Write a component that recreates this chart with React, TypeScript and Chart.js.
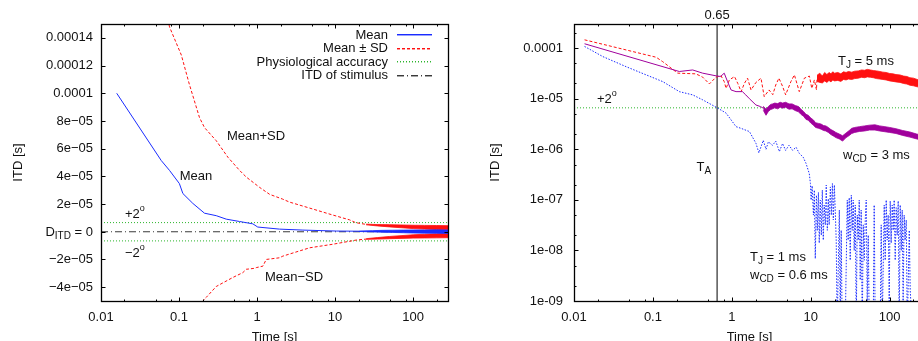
import React, { useEffect, useRef } from 'react';
import { Chart, registerables } from 'chart.js';

Chart.register(...registerables);

const FONT = '"Liberation Sans", Arial, Helvetica, sans-serif';
const INK = '#111111';
const BLUE = '#1a2cff';
const RED = '#ff1010';
const GREEN = '#2cb52c';
const PURPLE = '#a0009c';
const DASHDOT = '#3a3a3a';

// ---------- shared x axis ----------
const X_MIN = 0.01;
const X_MAX = 280;
const X_TICKS = [0.01, 0.1, 1, 10, 100];
const X_LABELS = ['0.01', '0.1', '1', '10', '100'];
const X_MINOR = [2, 5, 8];
const X_TITLE = 'Time [s]';
const Y_TITLE = 'ITD [s]';

// ---------- left panel ----------
const L_Y_MIN = -5e-5;
const L_Y_MAX = 1.5e-4;
const L_Y_TICKS = [-4e-5, -2e-5, 0, 2e-5, 4e-5, 6e-5, 8e-5, 1e-4, 1.2e-4, 1.4e-4];
const L_Y_LABELS = ['\u22124e\u221205', '\u22122e\u221205', 'D_{ITD} = 0', '2e\u221205', '4e\u221205', '6e\u221205', '8e\u221205', '0.0001', '0.00012', '0.00014'];
const ACCURACY = 6.6e-6;

const L_MEAN_T = [0.0159, 0.0592, 0.0755, 0.101, 0.112, 0.150, 0.212, 0.300, 0.403, 0.597, 0.883, 1.02, 1.94, 3.87, 10.4, 20];
const L_MEAN_V = [1.0e-4, 5.14e-5, 4.43e-5, 3.48e-5, 2.76e-5, 2.05e-5, 1.34e-5, 1.16e-5, 9.1e-6, 7.4e-6, 5.7e-6, 3.4e-6, 1.9e-6, 1.2e-6, 5e-7, 4e-7];
const L_MEAN_BAND_T = [20, 30, 40, 55, 75, 100, 140, 200, 280];
const L_MEAN_BAND_HI = [5e-7, 8e-7, 1.0e-6, 1.1e-6, 1.2e-6, 1.3e-6, 1.3e-6, 1.4e-6, 1.3e-6];
const L_MEAN_BAND_LO = [2e-7, -1e-7, -3e-7, -5e-7, -7e-7, -9e-7, -1.0e-6, -1.1e-6, -1.2e-6];

const L_PLUS_T = [0.068, 0.0755, 0.107, 0.136, 0.183, 0.212, 0.300, 0.423, 0.597, 0.727, 1.08, 1.45, 2.12, 2.61, 4.71, 9.3, 15.3, 18.3, 25];
const L_PLUS_V = [1.6e-4, 1.479e-4, 1.276e-4, 1.062e-4, 8.24e-5, 7.52e-5, 6.57e-5, 5.38e-5, 4.43e-5, 3.95e-5, 3.2e-5, 2.7e-5, 2.36e-5, 2.14e-5, 1.71e-5, 1.21e-5, 8.6e-6, 6.6e-6, 5.3e-6];
const L_PLUS_BAND_T = [25, 35, 50, 70, 100, 140, 200, 280];
const L_PLUS_BAND_HI = [5.5e-6, 5.2e-6, 5.1e-6, 4.9e-6, 4.7e-6, 4.6e-6, 4.5e-6, 4.4e-6];
const L_PLUS_BAND_LO = [5.0e-6, 4.2e-6, 3.5e-6, 2.9e-6, 2.3e-6, 1.9e-6, 1.6e-6, 1.4e-6];

const L_MINUS_T = [0.2, 0.212, 0.223, 0.300, 0.49, 0.658, 0.727, 0.929, 0.977, 1.19, 1.31, 1.94, 2.14, 4.71, 9.4, 18.7, 25];
const L_MINUS_V = [-5.05e-5, -4.86e-5, -4.74e-5, -3.95e-5, -3.3e-5, -2.95e-5, -2.71e-5, -2.64e-5, -2.59e-5, -2.48e-5, -2.0e-5, -1.88e-5, -1.76e-5, -1.16e-5, -9.0e-6, -6.0e-6, -5.3e-6];
const L_MINUS_BAND_T = [25, 35, 50, 70, 100, 140, 200, 280];
const L_MINUS_BAND_HI = [-5.0e-6, -4.2e-6, -3.4e-6, -2.8e-6, -2.2e-6, -1.8e-6, -1.5e-6, -1.3e-6];
const L_MINUS_BAND_LO = [-5.5e-6, -5.3e-6, -5.0e-6, -4.8e-6, -4.6e-6, -4.5e-6, -4.4e-6, -4.3e-6];

const LEGEND_LABELS = ['Mean', 'Mean \u00b1 SD', 'Physiological accuracy', 'ITD of stimulus'];

// ---------- right panel ----------
const R_Y_MIN = 1e-9;
const R_Y_MAX = 3e-4;
const R_Y_TICKS = [1e-9, 1e-8, 1e-7, 1e-6, 1e-5, 1e-4];
const R_Y_LABELS = ['1e-09', '1e-08', '1e-07', '1e-06', '1e-05', '0.0001'];
const R_Y_MINOR = [2, 5];
const T_A = 0.65;

const R_BLUE_T = [0.0136, 0.0232, 0.0457, 0.082, 0.133, 0.216, 0.319, 0.427, 0.631, 0.845, 1.13, 1.3, 1.67, 2.02, 2.2, 2.5, 2.71, 2.9, 3.28, 3.6, 4.0, 4.39, 4.8, 5.3, 5.89, 6.5, 7.15, 8.0, 8.69, 9.57,
  9.9, 10.1, 10.4, 10.8, 11.1, 11.4, 11.8, 12.1, 12.5, 12.8, 13.2, 13.6, 14.0, 14.4, 14.8, 15.3, 15.7, 16.2, 16.7, 17.1,
  17.7, 18.2, 18.8, 19.3, 19.9, 20.4, 21.0, 21.6, 23.0, 23.6, 24.3, 25.0, 27.3, 29.0, 29.8, 30.7, 31.6, 32.6, 33.5, 34.5,
  35.5, 36.6, 37.7, 38.8, 40.0, 41.1, 42.3, 43.5, 44.9, 46.2, 47.6, 49.0, 50.4, 51.9, 53.5, 55.1, 61.8, 63.6, 65.5, 75.8,
  78.0, 80.4, 85.2, 87.7, 90.3, 92.9, 95.7, 98.6, 101.5, 104.5, 107.6, 110.7, 114, 117.4, 120.9, 124.5, 128.2, 131.9, 135.9, 140,
  144, 148, 152.5, 157, 162, 167, 177, 182, 193, 280];
const R_BLUE_V = [1.08e-4, 6.8e-5, 4.3e-5, 2.96e-5, 2.18e-5, 1.38e-5, 1.19e-5, 9.5e-6, 6.8e-6, 5.2e-6, 2.8e-6, 2.6e-6, 2.24e-6, 1.31e-6, 8.5e-7, 1.5e-6, 1.0e-6, 1.4e-6, 1.2e-6, 1.45e-6, 9e-7, 1.3e-6, 9.5e-7, 1.2e-6, 9.5e-7, 1.1e-6, 8.3e-7, 7e-7, 5.3e-7, 3.3e-7,
  2.1e-7, 9.9e-8, 1.9e-7, 5e-8, 1.56e-7, 6.9e-9, 1.24e-7, 2.5e-8, 1.4e-7, 1.4e-8, 9.9e-8, 2.0e-8, 1.56e-7, 1.6e-8, 7.9e-8, 3.2e-8, 1.96e-7, 2.5e-8, 1.05e-7, 3.2e-8,
  1.8e-7, 5e-8, 2.1e-7, 4e-8, 1.96e-7, 6.3e-8, 1.6e-8, 3e-10, 6.3e-8, 5e-10, 2.5e-8, 3e-10, 3e-10, 9.9e-8, 1.6e-8, 1.1e-7, 6.4e-9, 1.24e-7, 2.5e-8, 9.9e-8,
  1e-8, 7.9e-8, 3e-10, 5e-8, 1.6e-8, 9.9e-8, 2.6e-9, 6.3e-8, 3e-10, 3.2e-8, 6.4e-9, 4e-8, 9.9e-8, 1e-9, 2e-8, 3e-10, 3e-10, 7.9e-8, 3e-10, 3e-10,
  3.2e-8, 3e-10, 7.9e-8, 6.4e-9, 9.9e-8, 1.6e-8, 5e-8, 1e-9, 9.5e-8, 1.4e-8, 7.9e-8, 2.5e-8, 9.9e-8, 6.4e-9, 7e-8, 2e-8, 9.5e-8, 3e-10, 7.9e-8, 1e-8,
  6.3e-8, 1e-9, 5e-8, 1.6e-8, 4e-8, 3e-10, 2.5e-8, 1.6e-9, 3e-10, 3e-10];

const R_PURPLE_T = [0.0136, 0.216, 0.319, 0.427, 0.631, 0.72, 0.8, 0.88, 0.977, 1.13, 1.36, 1.5, 1.67, 2.02, 2.3, 2.5];
const R_PURPLE_V = [1.22e-4, 3.45e-5, 3.7e-5, 3.2e-5, 2.83e-5, 2.75e-5, 3.2e-5, 2.2e-5, 1.49e-5, 1.38e-5, 1.38e-5, 1.19e-5, 1.0e-5, 7.5e-6, 7.0e-6, 6.5e-6];
const R_PURPLE_BAND_T = [2.5, 2.71, 2.9, 3.1, 3.28, 3.5, 3.8, 4.1, 4.39, 4.8, 5.3, 5.8, 6.4, 7.0, 7.5, 8.1, 8.7, 9.3, 10, 10.8, 11.5, 12.5, 13.5, 14.5, 15.5, 16.7, 18, 19.5, 20.8, 23, 25.3, 28, 30.7, 33, 36, 41.3, 48, 55.6, 65, 74.7, 87, 100, 120, 146, 180, 220, 280];
const R_PURPLE_BAND_HI = [7.1e-6, 6.2e-6, 7.0e-6, 7.7e-6, 7.9e-6, 8.2e-6, 8.0e-6, 8.5e-6, 8.2e-6, 8.5e-6, 7.9e-6, 7.9e-6, 7.3e-6, 7.0e-6, 6.2e-6, 5.6e-6, 4.9e-6, 4.7e-6, 4.15e-6, 3.8e-6, 3.35e-6, 3.25e-6, 3.15e-6, 2.95e-6, 2.9e-6, 2.7e-6, 2.45e-6, 2.3e-6, 2.15e-6, 2.0e-6, 1.85e-6, 2.1e-6, 2.35e-6, 2.6e-6, 2.7e-6, 2.8e-6, 2.9e-6, 3.0e-6, 3.05e-6, 2.9e-6, 2.8e-6, 2.7e-6, 2.55e-6, 2.35e-6, 2.2e-6, 2.0e-6, 1.85e-6];
const R_PURPLE_BAND_LO = [5.9e-6, 4.7e-6, 5.6e-6, 6.1e-6, 6.3e-6, 6.6e-6, 6.3e-6, 6.8e-6, 6.5e-6, 6.8e-6, 6.2e-6, 6.3e-6, 5.8e-6, 5.5e-6, 4.9e-6, 4.5e-6, 3.9e-6, 3.75e-6, 3.3e-6, 3.0e-6, 2.7e-6, 2.6e-6, 2.5e-6, 2.35e-6, 2.3e-6, 2.15e-6, 1.95e-6, 1.82e-6, 1.7e-6, 1.6e-6, 1.45e-6, 1.7e-6, 1.87e-6, 2.05e-6, 2.15e-6, 2.25e-6, 2.3e-6, 2.4e-6, 2.4e-6, 2.3e-6, 2.22e-6, 2.15e-6, 2.05e-6, 1.88e-6, 1.74e-6, 1.6e-6, 1.47e-6];

const R_RED_T = [0.0136, 0.11, 0.133, 0.206, 0.35, 0.427, 0.519, 0.631, 0.73, 0.8, 0.845, 0.93, 1.08, 1.19, 1.31, 1.44, 1.58, 1.75, 2.02, 2.34, 2.57, 2.96, 3.3, 3.6, 3.95, 4.4, 4.8, 5.6, 6.2, 7.15, 8.3, 9.6, 10.3, 11.1, 11.8, 12];
const R_RED_V = [1.46e-4, 6.6e-5, 5.4e-5, 3.2e-5, 3.1e-5, 2.67e-5, 1.96e-5, 2.67e-5, 2.83e-5, 2.18e-5, 1.6e-5, 2.35e-5, 2.74e-5, 2.0e-5, 1.38e-5, 2.0e-5, 2.55e-5, 1.49e-5, 2.1e-5, 2.55e-5, 1.1e-5, 1.49e-5, 1.2e-5, 1.87e-5, 2.55e-5, 1.74e-5, 1.19e-5, 2.18e-5, 2.96e-5, 1.38e-5, 2.55e-5, 2.8e-5, 1.6e-5, 2.35e-5, 1.5e-5, 2.5e-5];
const R_RED_BAND_T = [12, 13, 14, 15, 16, 17, 18, 19, 20, 22, 24, 26, 28, 30, 33, 36, 40, 44, 48, 52, 57, 62, 68, 75, 82, 90, 100, 110, 120, 135, 150, 165, 180, 200, 223, 250, 280];
const R_RED_BAND_HI = [2.9e-5, 3.2e-5, 2.8e-5, 3.3e-5, 3.0e-5, 3.3e-5, 3.1e-5, 3.4e-5, 3.2e-5, 3.3e-5, 3.1e-5, 3.4e-5, 3.3e-5, 3.45e-5, 3.35e-5, 3.5e-5, 3.55e-5, 3.7e-5, 3.65e-5, 3.8e-5, 3.7e-5, 3.6e-5, 3.55e-5, 3.45e-5, 3.35e-5, 3.3e-5, 3.15e-5, 3.1e-5, 3.0e-5, 2.95e-5, 2.8e-5, 2.75e-5, 2.6e-5, 2.55e-5, 2.4e-5, 2.35e-5, 2.25e-5];
const R_RED_BAND_LO = [2.2e-5, 2.1e-5, 2.05e-5, 2.25e-5, 2.1e-5, 2.3e-5, 2.15e-5, 2.35e-5, 2.25e-5, 2.3e-5, 2.2e-5, 2.4e-5, 2.35e-5, 2.45e-5, 2.4e-5, 2.5e-5, 2.55e-5, 2.65e-5, 2.6e-5, 2.7e-5, 2.65e-5, 2.6e-5, 2.5e-5, 2.45e-5, 2.4e-5, 2.35e-5, 2.25e-5, 2.2e-5, 2.15e-5, 2.1e-5, 2.0e-5, 1.95e-5, 1.85e-5, 1.8e-5, 1.72e-5, 1.68e-5, 1.6e-5];

// ---------- helpers ----------
const pts = (t: number[], v: number[]) => t.map((x, i) => ({ x, y: v[i] }));

function line(t: number[], v: number[], color: string, dash: number[] = [], extra: any = {}) {
  return {
    data: pts(t, v), borderColor: color, backgroundColor: color, borderWidth: 1,
    borderDash: dash, pointRadius: 0, pointHoverRadius: 0, tension: 0, fill: false, ...extra,
  };
}

function parseRich(s: string) {
  const parts: { t: string; k: string }[] = [];
  const re = /(_\{[^}]*\}|\^\{[^}]*\})/g;
  let last = 0;
  let m: RegExpExecArray | null;
  while ((m = re.exec(s))) {
    if (m.index > last) parts.push({ t: s.slice(last, m.index), k: 'n' });
    parts.push({ t: m[0].slice(2, -1), k: m[0][0] === '_' ? 'sub' : 'sup' });
    last = m.index + m[0].length;
  }
  if (last < s.length) parts.push({ t: s.slice(last), k: 'n' });
  return parts;
}

function drawRich(ctx: CanvasRenderingContext2D, s: string, x: number, y: number, align: string) {
  const parts = parseRich(s);
  const fontFor = (k: string) => (k === 'n' ? `13px ${FONT}` : k === 'sub' ? `10px ${FONT}` : `9px ${FONT}`);
  const widths = parts.map((p) => { ctx.font = fontFor(p.k); return ctx.measureText(p.t).width; });
  const total = widths.reduce((a, b) => a + b, 0);
  let cx = align === 'right' ? x - total : align === 'center' ? x - total / 2 : x;
  ctx.textBaseline = 'middle';
  ctx.textAlign = 'left';
  ctx.fillStyle = INK;
  parts.forEach((p, i) => {
    ctx.font = fontFor(p.k);
    const dy = p.k === 'sub' ? 4 : p.k === 'sup' ? -5 : 0;
    ctx.fillText(p.t, cx, y + dy);
    cx += widths[i];
  });
}

function framePlugin(yTicks: number[], yMinor: number[] | null) {
  return {
    id: 'frame',
    afterDatasetsDraw(chart: any) {
      const { ctx, chartArea: a } = chart;
      const xs = chart.scales.x;
      const ys = chart.scales.y;
      const L = Math.round(a.left) + 0.5, R = Math.round(a.right) + 0.5;
      const T = Math.round(a.top) + 0.5, B = Math.round(a.bottom) + 0.5;
      ctx.save();
      ctx.strokeStyle = '#000';
      ctx.lineWidth = 1;
      ctx.setLineDash([]);
      ctx.beginPath();
      const xt = (v: number, len: number) => {
        const p = Math.round(xs.getPixelForValue(v)) + 0.5;
        ctx.moveTo(p, B); ctx.lineTo(p, B - len);
        ctx.moveTo(p, T); ctx.lineTo(p, T + len);
      };
      const yt = (v: number, len: number) => {
        const p = Math.round(ys.getPixelForValue(v)) + 0.5;
        ctx.moveTo(L, p); ctx.lineTo(L + len, p);
        ctx.moveTo(R, p); ctx.lineTo(R - len, p);
      };
      X_TICKS.forEach((d) => {
        xt(d, 4);
        X_MINOR.forEach((m) => { if (d * m <= X_MAX) xt(d * m, 2); });
      });
      yTicks.forEach((d) => {
        yt(d, 4);
        if (yMinor) yMinor.forEach((m) => { if (d * m <= ys.max) yt(d * m, 2); });
      });
      ctx.stroke();
      ctx.lineWidth = 1.3;
      ctx.strokeRect(L, T, R - L, B - T);
      ctx.restore();
    },
  };
}

type Note = { text: string; x: number | ((c: any) => number); y: number; align: string };

function notesPlugin(notes: Note[]) {
  return {
    id: 'notes',
    afterDraw(chart: any) {
      const ctx = chart.ctx;
      ctx.save();
      notes.forEach((n) => {
        const x = typeof n.x === 'function' ? n.x(chart) : n.x;
        drawRich(ctx, n.text, x, n.y, n.align);
      });
      ctx.restore();
    },
  };
}

const LEGEND_STYLES = [
  { color: BLUE, dash: [40] },
  { color: RED, dash: [3, 2] },
  { color: GREEN, dash: [1, 2] },
  { color: DASHDOT, dash: [7, 3, 1, 3] },
];

const legendPlugin = {
  id: 'keybox',
  afterDraw(chart: any) {
    const ctx: CanvasRenderingContext2D = chart.ctx;
    ctx.save();
    LEGEND_LABELS.forEach((label, i) => {
      const y = 35 + i * 13.5;
      ctx.globalAlpha = 1;
      ctx.font = `13px ${FONT}`;
      ctx.fillStyle = INK;
      ctx.textAlign = 'right';
      ctx.textBaseline = 'middle';
      ctx.fillText(label, 388, y);
      const st = LEGEND_STYLES[i];
      ctx.fillStyle = st.color;
      const yy = Math.round(y) - 1;
      let x = 397;
      let k = 0;
      while (x < 432) {
        const seg = st.dash[k % st.dash.length];
        if (k % 2 === 0) {
          const w = Math.min(seg, 432 - x);
          ctx.globalAlpha = 1;
          ctx.fillRect(x, yy, w, 1);
          ctx.globalAlpha = 0.45;
          ctx.fillRect(x, yy + 1, w, 1);
        }
        x += seg;
        k += 1;
      }
    });
    ctx.restore();
  },
};

function xScale() {
  return {
    type: 'logarithmic', min: X_MIN, max: X_MAX,
    grid: { display: false, drawTicks: false }, border: { display: false },
    ticks: { font: { family: FONT, size: 13 }, color: INK, padding: 9, autoSkip: false, maxRotation: 0,
      callback: (_v: any, i: number) => X_LABELS[i] },
    title: { display: true, text: X_TITLE, color: INK, font: { family: FONT, size: 13, lineHeight: 1 }, padding: { top: 0, bottom: -3 } },
    afterBuildTicks: (s: any) => { s.ticks = X_TICKS.map((value) => ({ value })); },
    afterFit: (s: any) => { s.height = 40; },
  };
}

function leftConfig(): any {
  const flat = (v: number) => [v, v];
  return {
    type: 'line',
    data: {
      datasets: [
        line(L_MEAN_T, L_MEAN_V, BLUE),
        line(L_MEAN_BAND_T, L_MEAN_BAND_HI, BLUE, [], { borderWidth: 0.8 }),
        line(L_MEAN_BAND_T, L_MEAN_BAND_LO, BLUE, [], { borderWidth: 0.8, fill: '-1' }),
        line(L_PLUS_T, L_PLUS_V, RED, [3, 2]),
        line(L_PLUS_BAND_T, L_PLUS_BAND_HI, RED, [], { borderWidth: 0.8 }),
        line(L_PLUS_BAND_T, L_PLUS_BAND_LO, RED, [], { borderWidth: 0.8, fill: '-1' }),
        line(L_MINUS_T, L_MINUS_V, RED, [3, 2]),
        line(L_MINUS_BAND_T, L_MINUS_BAND_HI, RED, [], { borderWidth: 0.8 }),
        line(L_MINUS_BAND_T, L_MINUS_BAND_LO, RED, [], { borderWidth: 0.8, fill: '-1' }),
        line([X_MIN, X_MAX], flat(ACCURACY), GREEN, [1, 2]),
        line([X_MIN, X_MAX], flat(-ACCURACY), GREEN, [1, 2]),
        line([X_MIN, X_MAX], flat(0), DASHDOT, [7, 3, 1, 3]),
      ],
    },
    options: {
      animation: false, responsive: false, maintainAspectRatio: false,
      layout: { padding: { left: 0, right: 12, top: 24, bottom: 0 } },
      plugins: { legend: { display: false }, tooltip: { enabled: false } },
      scales: {
        x: xScale(),
        y: {
          type: 'linear', min: L_Y_MIN, max: L_Y_MAX,
          grid: { display: false, drawTicks: false }, border: { display: false },
          ticks: { font: { family: FONT, size: 13 }, color: INK, padding: 8, autoSkip: false,
            callback: (_v: any, i: number) => (L_Y_LABELS[i].includes('_') ? '' : L_Y_LABELS[i]) },
          title: { display: true, text: Y_TITLE, color: INK, font: { family: FONT, size: 13, lineHeight: 1 }, padding: { top: 11.5, bottom: 0 } },
          afterBuildTicks: (s: any) => { s.ticks = L_Y_TICKS.map((value) => ({ value })); },
          afterFit: (s: any) => { s.width = 101; },
        },
      },
    },
    plugins: [
      framePlugin(L_Y_TICKS, null),
      legendPlugin,
      notesPlugin([
        { text: L_Y_LABELS[2], x: 93, y: 232, align: 'right' },
        { text: 'Mean+SD', x: 256, y: 136, align: 'center' },
        { text: 'Mean', x: 196, y: 176, align: 'center' },
        { text: 'Mean\u2212SD', x: 294, y: 277, align: 'center' },
        { text: '+2^{o}', x: 125, y: 214, align: 'left' },
        { text: '\u22122^{o}', x: 125, y: 253, align: 'left' },
      ]),
    ],
  };
}

function rightConfig(): any {
  const taX = (c: any) => c.scales.x.getPixelForValue(T_A);
  return {
    type: 'line',
    data: {
      datasets: [
        line(R_BLUE_T, R_BLUE_V, BLUE, [1.5, 1.5]),
        line(R_PURPLE_T, R_PURPLE_V, PURPLE),
        line(R_PURPLE_BAND_T, R_PURPLE_BAND_HI, PURPLE, [], { borderWidth: 0.8 }),
        line(R_PURPLE_BAND_T, R_PURPLE_BAND_LO, PURPLE, [], { borderWidth: 0.8, fill: '-1' }),
        line(R_RED_T, R_RED_V, RED, [3, 2]),
        line(R_RED_BAND_T, R_RED_BAND_HI, RED, [], { borderWidth: 0.8 }),
        line(R_RED_BAND_T, R_RED_BAND_LO, RED, [], { borderWidth: 0.8, fill: '-1' }),
        line([X_MIN, X_MAX], [ACCURACY, ACCURACY], GREEN, [1, 2]),
        line([T_A, T_A], [1e-10, 1e-3], '#000'),
      ],
    },
    options: {
      animation: false, responsive: false, maintainAspectRatio: false,
      layout: { padding: { left: 0, right: 15, top: 24, bottom: 0 } },
      plugins: { legend: { display: false }, tooltip: { enabled: false } },
      scales: {
        x: xScale(),
        y: {
          type: 'logarithmic', min: R_Y_MIN, max: R_Y_MAX,
          grid: { display: false, drawTicks: false }, border: { display: false },
          ticks: { font: { family: FONT, size: 13 }, color: INK, padding: 11, autoSkip: false,
            callback: (_v: any, i: number) => R_Y_LABELS[i] },
          title: { display: true, text: Y_TITLE, color: INK, font: { family: FONT, size: 13, lineHeight: 1 }, padding: { top: 28.5, bottom: 0 } },
          afterBuildTicks: (s: any) => { s.ticks = R_Y_TICKS.map((value) => ({ value })); },
          afterFit: (s: any) => { s.width = 114; },
        },
      },
    },
    plugins: [
      framePlugin(R_Y_TICKS, R_Y_MINOR),
      notesPlugin([
        { text: String(T_A), x: taX, y: 15, align: 'center' },
        { text: 'T_{A}', x: (c: any) => taX(c) - 6, y: 167, align: 'right' },
        { text: '+2^{o}', x: 137, y: 99, align: 'left' },
        { text: 'T_{J} = 5 ms', x: 378, y: 61, align: 'left' },
        { text: 'w_{CD} = 3 ms', x: 383, y: 155, align: 'left' },
        { text: 'T_{J} = 1 ms', x: 290, y: 257, align: 'left' },
        { text: 'w_{CD} = 0.6 ms', x: 290, y: 275, align: 'left' },
      ]),
    ],
  };
}

function Panel({ build, width, left }: { build: () => any; width: number; left: number }) {
  const ref = useRef<HTMLCanvasElement | null>(null);
  useEffect(() => {
    const chart = new Chart(ref.current as HTMLCanvasElement, build());
    return () => chart.destroy();
  }, []);
  return (
    <canvas ref={ref} width={width} height={341}
      style={{ position: 'absolute', left, top: 0, width, height: 341 }} />
  );
}

export default function App() {
  return (
    <div style={{ position: 'fixed', left: 0, top: 0, width: 918, height: 341, overflow: 'hidden', background: '#fff' }}>
      <Panel build={leftConfig} width={460} left={0} />
      <Panel build={rightConfig} width={480} left={460} />
    </div>
  );
}
